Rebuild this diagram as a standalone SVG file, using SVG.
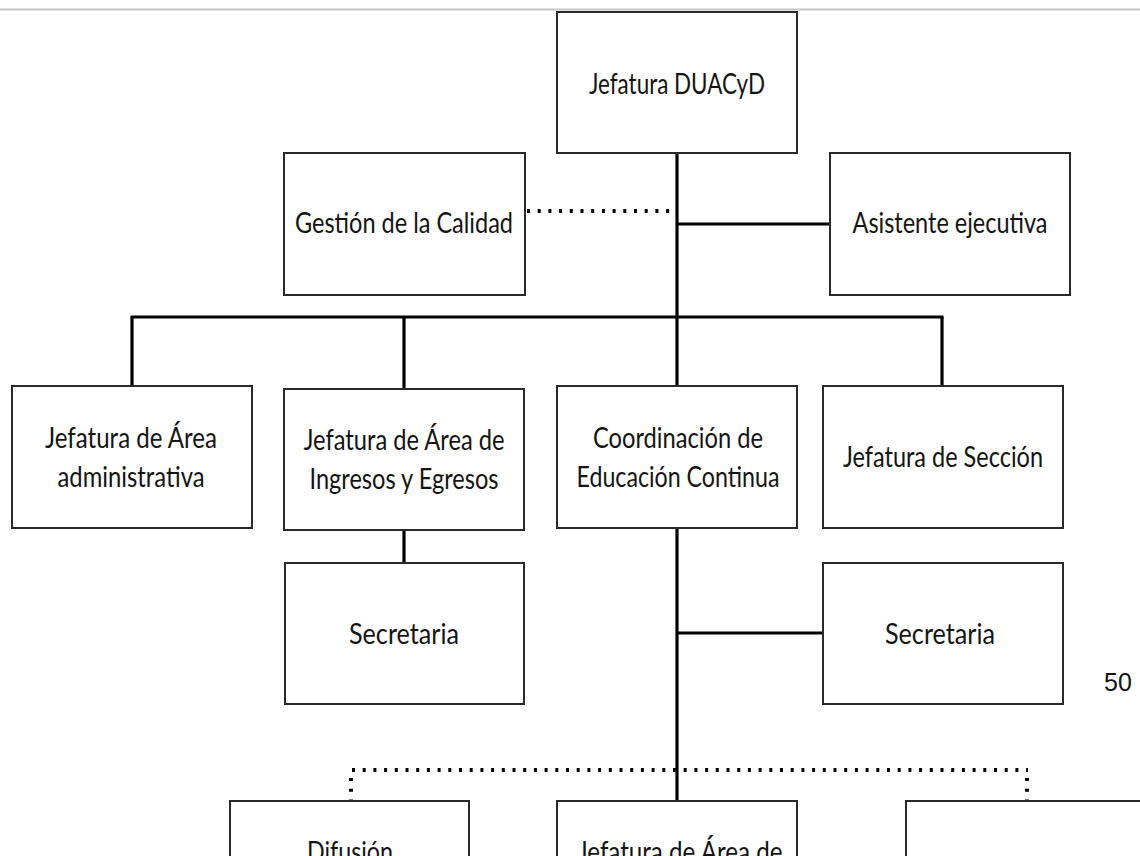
<svg xmlns="http://www.w3.org/2000/svg" width="1140" height="856" viewBox="0 0 1140 856">
<style>
.box{fill:#fff;stroke:#2a2a2a;stroke-width:2}
.t{font-family:"Lato","Liberation Sans",sans-serif;font-size:28px;fill:#141414;text-anchor:middle}
.solid{stroke:#000;stroke-width:3.2;fill:none}
.dot{stroke:#000;stroke-width:4;fill:none;stroke-dasharray:3 7.7}
</style>
<rect width="1140" height="856" fill="#fff"/>
<line x1="0" y1="9.5" x2="1140" y2="9.5" stroke="#c6c6c6" stroke-width="2"/>
<g id="connectors">
<line class="solid" x1="677" y1="153" x2="677" y2="801"/>
<line class="solid" x1="677" y1="224" x2="830" y2="224"/>
<line class="dot" x1="527" y1="211" x2="677" y2="211"/>
<line class="solid" x1="130.5" y1="317" x2="943.5" y2="317"/>
<line class="solid" x1="132" y1="317" x2="132" y2="386"/>
<line class="solid" x1="404" y1="317" x2="404" y2="389"/>
<line class="solid" x1="942" y1="317" x2="942" y2="386"/>
<line class="solid" x1="404" y1="530" x2="404" y2="563"/>
<line class="solid" x1="677" y1="633" x2="823" y2="633"/>
<line class="dot" x1="352" y1="770" x2="1028" y2="770"/>
<line class="dot" x1="351" y1="778" x2="351" y2="801"/>
<line class="dot" x1="1027" y1="778" x2="1027" y2="801"/>
</g>
<g id="n-jefatura"><rect class="box" x="557" y="12" width="240" height="141"/><text class="t" x="677" y="94" textLength="176" lengthAdjust="spacingAndGlyphs">Jefatura DUACyD</text></g>
<g id="n-gestion"><rect class="box" x="284" y="153" width="241" height="142"/><text class="t" x="404" y="233" textLength="218" lengthAdjust="spacingAndGlyphs">Gestión de la Calidad</text></g>
<g id="n-asistente"><rect class="box" x="830" y="153" width="240" height="142"/><text class="t" x="950" y="233" textLength="195" lengthAdjust="spacingAndGlyphs">Asistente ejecutiva</text></g>
<g id="n-admin"><rect class="box" x="12" y="386" width="240" height="142"/><text class="t" x="131" y="448" textLength="172" lengthAdjust="spacingAndGlyphs">Jefatura de Área</text><text class="t" x="131" y="487" textLength="147" lengthAdjust="spacingAndGlyphs">administrativa</text></g>
<g id="n-ingresos"><rect class="box" x="284" y="389" width="240" height="141"/><text class="t" x="404" y="450" textLength="201" lengthAdjust="spacingAndGlyphs">Jefatura de Área de</text><text class="t" x="404" y="489" textLength="189" lengthAdjust="spacingAndGlyphs">Ingresos y Egresos</text></g>
<g id="n-coordinacion"><rect class="box" x="557" y="386" width="240" height="142"/><text class="t" x="678" y="448" textLength="170" lengthAdjust="spacingAndGlyphs">Coordinación de</text><text class="t" x="678" y="487" textLength="203" lengthAdjust="spacingAndGlyphs">Educación Continua</text></g>
<g id="n-seccion"><rect class="box" x="823" y="386" width="240" height="142"/><text class="t" x="943" y="467" textLength="200" lengthAdjust="spacingAndGlyphs">Jefatura de Sección</text></g>
<g id="n-secretaria1"><rect class="box" x="285" y="563" width="239" height="141"/><text class="t" x="404" y="644" textLength="110" lengthAdjust="spacingAndGlyphs">Secretaria</text></g>
<g id="n-secretaria2"><rect class="box" x="823" y="563" width="240" height="141"/><text class="t" x="940" y="644" textLength="110" lengthAdjust="spacingAndGlyphs">Secretaria</text></g>
<g id="n-difusion"><rect class="box" x="230" y="801" width="239" height="80"/><text class="t" x="350" y="862" textLength="86" lengthAdjust="spacingAndGlyphs">Difusión</text></g>
<g id="n-jefatura-area"><rect class="box" x="557" y="801" width="240" height="80"/><text class="t" x="680" y="862" textLength="205" lengthAdjust="spacingAndGlyphs">Jefatura de Área de</text></g>
<g id="n-right"><rect class="box" x="906" y="801" width="260" height="80"/></g>
<text x="1104" y="691" font-family="Liberation Sans, Arial, sans-serif" font-size="25" fill="#111">50</text>
</svg>
